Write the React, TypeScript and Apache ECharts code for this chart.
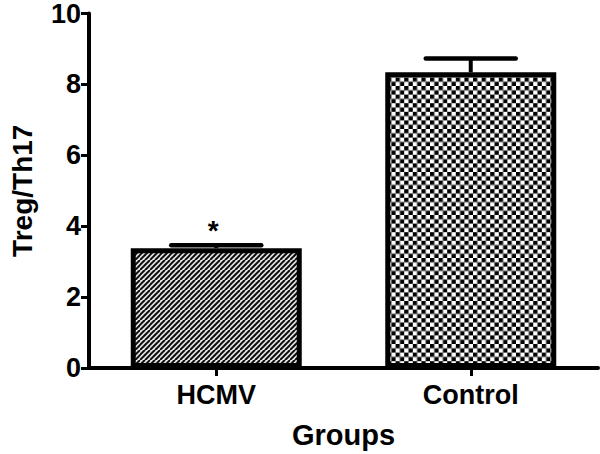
import React, { useEffect, useRef } from "react";
import * as echarts from "echarts";

const categories = ["HCMV", "Control"];
const means = [3.38, 8.34];
const errors = [0.08, 0.39];
const significance = ["*", ""];
const yTicks = { min: 0, max: 10, interval: 2 };
const yAxisName = "Treg/Th17";
const xAxisName = "Groups";

const FONT = "'Liberation Sans', Arial, Helvetica, sans-serif";

function makeHatch(): HTMLCanvasElement {
  const s = 10;
  const tile = 10;
  const c = document.createElement("canvas");
  c.width = tile * s;
  c.height = tile * s;
  const ctx = c.getContext("2d")!;
  ctx.fillStyle = "#fff";
  ctx.fillRect(0, 0, c.width, c.height);
  ctx.strokeStyle = "#000";
  ctx.lineWidth = 2.0 * s;
  for (let k = -10; k <= 20; k += 5) {
    ctx.beginPath();
    ctx.moveTo((k + 10) * s, 0);
    ctx.lineTo(k * s, 10 * s);
    ctx.stroke();
  }
  return c;
}

function makeChecker(): HTMLCanvasElement {
  const s = 10;
  const sq = 4.3;
  const c = document.createElement("canvas");
  c.width = Math.round(sq * 2 * s);
  c.height = Math.round(sq * 2 * s);
  const ctx = c.getContext("2d")!;
  ctx.fillStyle = "#fff";
  ctx.fillRect(0, 0, c.width, c.height);
  ctx.fillStyle = "#000";
  const h = c.width / 2;
  ctx.fillRect(0, 0, h, h);
  ctx.fillRect(h, h, h, h);
  return c;
}

export default function App() {
  const ref = useRef<HTMLDivElement>(null);

  useEffect(() => {
    if (!ref.current) return;
    const chart = echarts.init(ref.current, null, { renderer: "svg" });
    const hatch = makeHatch();
    const checker = makeChecker();
    const patterns = [
      { image: hatch, repeat: "repeat", imageWidth: 10, imageHeight: 10 },
      { image: checker, repeat: "repeat", imageWidth: 8.6, imageHeight: 8.6 },
    ];

    const option: any = {
      animation: false,
      backgroundColor: "#ffffff",
      grid: { left: 81, top: 11, right: 2, bottom: 85, containLabel: false },
      xAxis: {
        type: "category",
        data: categories,
        name: xAxisName,
        nameLocation: "middle",
        nameGap: 52,
        nameTextStyle: { fontFamily: FONT, fontWeight: "bold", fontSize: 29, color: "#000" },
        axisLine: { lineStyle: { color: "#000", width: 4 } },
        axisTick: { show: true, alignWithLabel: true, length: 8, lineStyle: { color: "#000", width: 3 } },
        axisLabel: { fontFamily: FONT, fontWeight: "bold", fontSize: 27, color: "#000", margin: 13 },
        splitLine: { show: false },
      },
      yAxis: {
        type: "value",
        min: yTicks.min,
        max: yTicks.max,
        interval: yTicks.interval,
        name: yAxisName,
        nameLocation: "middle",
        nameRotate: 90,
        nameGap: 53,
        nameTextStyle: { fontFamily: FONT, fontWeight: "bold", fontSize: 28, color: "#000" },
        axisLine: { show: true, lineStyle: { color: "#000", width: 4 } },
        axisTick: { show: true, length: 8, lineStyle: { color: "#000", width: 3 } },
        axisLabel: { fontFamily: FONT, fontWeight: "bold", fontSize: 27, color: "#000", margin: 8 },
        splitLine: { show: false },
      },
      series: [
        {
          type: "bar",
          barWidth: 171,
          data: means.map((v, i) => ({
            value: v,
            itemStyle: {
              color: patterns[i],
              borderColor: "#000",
              borderWidth: 5,
            },
          })),
          z: 2,
        },
        {
          type: "custom",
          z: 3,
          data: means.map((v, i) => [i, v, errors[i], significance[i]]),
          renderItem: (params: any, api: any) => {
            const idx = api.value(0);
            const m = api.value(1);
            const e = api.value(2);
            const sig = significance[params.dataIndex];
            const base = api.coord([idx, m]);
            const top = api.coord([idx, m + e]);
            const half = 45;
            const children: any[] = [
              {
                type: "line",
                shape: { x1: base[0], y1: base[1], x2: top[0], y2: top[1] },
                style: { stroke: "#000", lineWidth: 4 },
              },
              {
                type: "line",
                shape: { x1: top[0] - half, y1: top[1], x2: top[0] + half, y2: top[1] },
                style: { stroke: "#000", lineWidth: 4.5, lineCap: "round" },
              },
            ];
            if (sig) {
              children.push({
                type: "text",
                style: {
                  text: sig,
                  x: top[0] - 3,
                  y: top[1] - 15,
                  align: "center",
                  verticalAlign: "middle",
                  fontFamily: FONT,
                  fontWeight: "bold",
                  fontSize: 28,
                  fill: "#000",
                },
              });
            }
            return { type: "group", children };
          },
        },
      ],
    };
    chart.setOption(option);
    return () => chart.dispose();
  }, []);

  return <div ref={ref} style={{ width: 600, height: 454, position: "absolute", left: 0, top: 0 }} />;
}
